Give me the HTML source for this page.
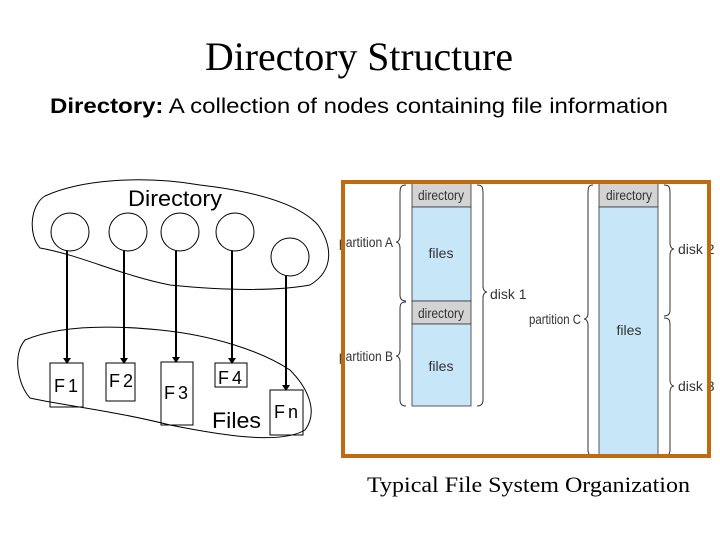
<!DOCTYPE html>
<html><head><style>
body{margin:0;width:720px;height:540px;background:#fff;overflow:hidden}
</style></head><body>
<svg width="720" height="540" xmlns="http://www.w3.org/2000/svg" style="position:absolute;left:0;top:0">
<text x="205" y="70" font-family="Liberation Serif, serif" font-size="40" textLength="308" lengthAdjust="spacingAndGlyphs">Directory Structure</text>
<text x="50" y="113" font-family="Liberation Sans, sans-serif" font-size="21" textLength="618" lengthAdjust="spacingAndGlyphs"><tspan font-weight="bold">Directory:</tspan> A collection of nodes containing file information</text>
<path d="M45,196 C80,180 140,175 200,185 C260,192 300,205 318,225 C332,245 335,270 310,285 C270,292 220,290 170,285 C120,275 80,255 40,248 C28,235 30,205 45,196 Z" fill="none" stroke="#000" stroke-width="1"/>
<path d="M25,340 C60,325 110,325 160,330 C210,335 260,350 290,370 C305,385 320,410 305,430 C280,445 220,435 170,425 C110,410 60,405 30,398 C18,385 12,355 25,340 Z" fill="none" stroke="#000" stroke-width="1"/>
<text x="128" y="206" font-family="Liberation Sans, sans-serif" font-size="22" textLength="94" lengthAdjust="spacingAndGlyphs">Directory</text>
<g fill="none" stroke="#000" stroke-width="1">
<ellipse cx="70" cy="232" rx="19" ry="19"/>
<ellipse cx="128" cy="232" rx="19" ry="19"/>
<ellipse cx="180" cy="232" rx="19" ry="19"/>
<ellipse cx="235" cy="232" rx="19" ry="19"/>
<ellipse cx="290" cy="257" rx="19" ry="19"/>
<rect x="50" y="363" width="33" height="44"/>
<rect x="106" y="363" width="29" height="38"/>
<rect x="161" y="362" width="32" height="63"/>
<rect x="215" y="363" width="32" height="24"/>
<rect x="270" y="390" width="33" height="45"/>
</g>
<g stroke="#000" stroke-width="2">
<line x1="67" y1="251" x2="67" y2="360"/>
<line x1="124" y1="251" x2="124" y2="360"/>
<line x1="176" y1="251" x2="176" y2="359"/>
<line x1="232" y1="251" x2="232" y2="360"/>
<line x1="286" y1="276" x2="286" y2="387"/>
</g>
<g fill="#000">
<path d="M63,358 L71,358 L67,364Z"/><path d="M120,358 L128,358 L124,364Z"/><path d="M172,357 L180,357 L176,363Z"/><path d="M228,358 L236,358 L232,364Z"/><path d="M282,385 L290,385 L286,391Z"/>
</g>
<g font-family="Liberation Sans, sans-serif" font-size="18" letter-spacing="3">
<text x="54" y="392">F1</text><text x="109" y="387">F2</text><text x="164" y="399">F3</text><text x="218" y="384">F4</text><text x="274" y="418">Fn</text>
</g>
<text x="212" y="428" font-family="Liberation Sans, sans-serif" font-size="22" textLength="49" lengthAdjust="spacingAndGlyphs">Files</text>
<rect x="412" y="183" width="59" height="24" fill="#d3d3d3" stroke="#333" stroke-width="0.8"/>
<rect x="412" y="207" width="59" height="94" fill="#c7e6f7" stroke="#333" stroke-width="0.8"/>
<rect x="412" y="301" width="59" height="23" fill="#d3d3d3" stroke="#333" stroke-width="0.8"/>
<rect x="412" y="324" width="59" height="82" fill="#c7e6f7" stroke="#333" stroke-width="0.8"/>
<rect x="599" y="183" width="59" height="24" fill="#d3d3d3" stroke="#333" stroke-width="0.8"/>
<rect x="599" y="207" width="59" height="250" fill="#c7e6f7" stroke="#333" stroke-width="0.8"/>
<g font-family="Liberation Sans, sans-serif" font-size="14" fill="#333" text-anchor="middle">
<text x="441" y="200" textLength="46" lengthAdjust="spacingAndGlyphs">directory</text><text x="441" y="258">files</text>
<text x="441" y="318" textLength="46" lengthAdjust="spacingAndGlyphs">directory</text><text x="441" y="371">files</text>
<text x="629" y="200" textLength="46" lengthAdjust="spacingAndGlyphs">directory</text><text x="629" y="335">files</text>
<text x="393" y="247" text-anchor="end" textLength="54" lengthAdjust="spacingAndGlyphs">partition A</text>
<text x="393" y="361" text-anchor="end" textLength="54" lengthAdjust="spacingAndGlyphs">partition B</text>
<text x="581" y="324" text-anchor="end" textLength="52" lengthAdjust="spacingAndGlyphs">partition C</text>
<text x="490" y="299" text-anchor="start">disk 1</text>
<text x="678" y="254" text-anchor="start">disk 2</text>
<text x="678" y="391" text-anchor="start">disk 3</text>
</g>
<g fill="none" stroke="#333" stroke-width="1">
<path d="M406,185 C400,185 400,188 400,195 L400,236 C400,240 398,242 396,242 C398,242 400,244 400,248 L400,295 C400,299 402,301 406,301"/>
<path d="M406,302 C400,302 400,305 400,310 L400,350 C400,354 398,356 396,356 C398,356 400,358 400,362 L400,400 C400,404 402,406 406,406"/>
<path d="M477,185 C483,185 483,188 483,195 L483,286 C483,290 485,292 487,292 C485,292 483,294 483,298 L483,400 C483,404 481,406 477,406"/>
<path d="M593,185 C588,185 588,188 588,195 L588,313 C588,317 586,319 584,319 C586,319 588,321 588,325 L588,450 C588,454 590,456 593,456"/>
<path d="M664,185 C670,185 670,188 670,195 L670,243 C670,247 672,249 674,249 C672,249 670,251 670,255 L670,310 C670,314 668,316 664,316"/>
<path d="M664,318 C670,318 670,321 670,326 L670,380 C670,384 672,386 674,386 C672,386 670,388 670,392 L670,450 C670,454 668,456 664,456"/>
</g>
<rect x="343" y="182" width="366" height="274" fill="none" stroke="#c06a12" stroke-width="4"/>
<text x="367" y="492" font-family="Liberation Serif, serif" font-size="22" textLength="323" lengthAdjust="spacingAndGlyphs">Typical File System Organization</text>
</svg>
</body></html>
